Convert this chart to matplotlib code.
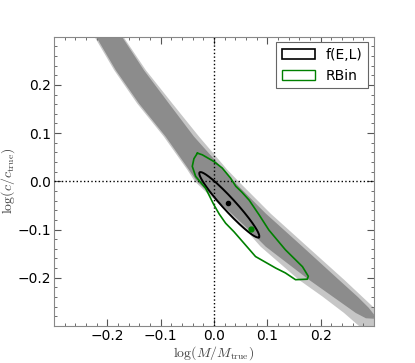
import numpy as np
import matplotlib
matplotlib.use("Agg")
import matplotlib.pyplot as plt
from matplotlib.patches import Patch
from matplotlib.ticker import MultipleLocator

plt.rcParams['mathtext.fontset'] = 'cm'
plt.rcParams['font.family'] = ['DejaVu Sans']

# ---- data (log M/Mtrue, log c/ctrue) ----
# dark band edges
dark_upper_x = [-0.1725, -0.1312, -0.0844, -0.0375, 0.0181, 0.037, 0.097, 0.166, 0.234, 0.27, 0.29, 0.30]
dark_upper_y = [0.30, 0.2303, 0.1614, 0.0928, 0.0241, 0.0, -0.0666, -0.1354, -0.204, -0.24, -0.262, -0.276]
dark_lower_x = [-0.221, -0.184, -0.1406, -0.0906, -0.0469, -0.032, 0.066, 0.097, 0.178, 0.222, 0.266, 0.285, 0.30]
dark_lower_y = [0.30, 0.2303, 0.1614, 0.0928, 0.0241, 0.0, -0.101, -0.1354, -0.204, -0.2385, -0.273, -0.284, -0.285]
# light band edges
light_upper_x = [-0.170, -0.1275, -0.078, -0.028, 0.025, 0.046, 0.106, 0.175, 0.244, 0.297, 0.32]
light_upper_y = [0.30, 0.2303, 0.1614, 0.0928, 0.0241, 0.0, -0.0666, -0.1354, -0.204, -0.259, -0.28]
light_lower_x = [-0.224, -0.187, -0.144, -0.094, -0.050, -0.036, 0.060, 0.0875, 0.159, 0.203, 0.244, 0.272, 0.32]
light_lower_y = [0.30, 0.2303, 0.1614, 0.0928, 0.0241, 0.0, -0.101, -0.1354, -0.204, -0.2385, -0.273, -0.30, -0.35]

# f(E,L) contour: ellipse centre, semi-axis vectors
fel_center = (0.0288, -0.0487)
fel_major = (0.0556, -0.0673)
fel_minor = (0.0088, 0.0088)
fel_best = (0.0257, -0.0454)

# RBin contour
rbin_x = [-0.031, -0.0218, 0.0, 0.0156, 0.031, 0.041, 0.052, 0.066, 0.085, 0.103, 0.134,
          0.166, 0.177, 0.175, 0.153, 0.134, 0.116, 0.078, 0.056, 0.0375, 0.022, 0.010,
          0.0, -0.0156, -0.0343, -0.0406, -0.0375, -0.031]
rbin_y = [0.0584, 0.055, 0.041, 0.0275, 0.0069, -0.0103, -0.022, -0.039, -0.07, -0.101, -0.142,
          -0.177, -0.197, -0.203, -0.204, -0.19, -0.18, -0.156, -0.128, -0.1045, -0.087, -0.068,
          -0.0489, -0.0144, 0.0103, 0.031, 0.047, 0.0584]
rbin_best = (0.0688, -0.0996)

xticks = [-0.2, -0.1, 0.0, 0.1, 0.2]
yticks = [-0.2, -0.1, 0.0, 0.1, 0.2]

fig = plt.figure(figsize=(4.15, 3.63), dpi=100)
ax = fig.add_axes([0.130, 0.102, 0.771, 0.797])

lx = light_upper_x + light_lower_x[::-1]
ly = light_upper_y + light_lower_y[::-1]
ax.fill(lx, ly, color='#c6c6c6', lw=0, zorder=1)
dx = dark_upper_x + dark_lower_x[::-1]
dy = dark_upper_y + dark_lower_y[::-1]
ax.fill(dx, dy, color='#8c8c8c', lw=0, zorder=2)

ax.axvline(0, color='black', ls=':', lw=1, zorder=3)
ax.axhline(0, color='black', ls=':', lw=1, zorder=3)

t = np.linspace(0, 2 * np.pi, 200)
ex = fel_center[0] + np.cos(t) * fel_major[0] + np.sin(t) * fel_minor[0]
ey = fel_center[1] + np.cos(t) * fel_major[1] + np.sin(t) * fel_minor[1]
ax.plot(ex, ey, color='black', lw=1.4, zorder=4)
ax.plot(rbin_x, rbin_y, color='green', lw=1.2, zorder=4)
ax.plot(*fel_best, 'o', color='black', ms=3, zorder=5)
ax.plot(*rbin_best, 'o', color='green', ms=3.5, zorder=5)

ax.set_xlim(-0.3, 0.3)
ax.set_ylim(-0.3, 0.3)
ax.set_xticks(xticks)
ax.set_yticks(yticks)
ax.set_xticklabels([f"{v:.1f}".replace('-', '\u2212') for v in xticks])
ax.set_yticklabels([f"{v:.1f}".replace('-', '\u2212') for v in yticks])
ax.xaxis.set_minor_locator(MultipleLocator(0.02))
ax.yaxis.set_minor_locator(MultipleLocator(0.02))
ax.tick_params(which='both', direction='in', top=True, right=True, color='#555555', labelsize=10)
ax.tick_params(which='major', length=5, width=0.8)
ax.tick_params(which='minor', length=2.5, width=0.6)
ax.tick_params(axis='x', pad=2)
ax.tick_params(axis='y', pad=2)
for s in ax.spines.values():
    s.set_color('#888888')
    s.set_linewidth(0.8)

ax.set_xlabel(r'$\log(M/M_{\rm true})$', fontsize=10, color='#444444', labelpad=1)
ax.set_ylabel(r'$\log(c/c_{\rm true})$', fontsize=10, color='#444444', labelpad=0.5)

handles = [Patch(facecolor='white', edgecolor='black', lw=1.2, label='f(E,L)'),
           Patch(facecolor='white', edgecolor='green', lw=1.0, label='RBin')]
leg = ax.legend(handles=handles, loc='upper right', fontsize=10, fancybox=False,
                framealpha=1, edgecolor='#666666', handlelength=2.4, handleheight=0.8,
                borderaxespad=0.4, borderpad=0.4)
leg.get_frame().set_linewidth(0.8)

fig.savefig('out.png', dpi=100)
